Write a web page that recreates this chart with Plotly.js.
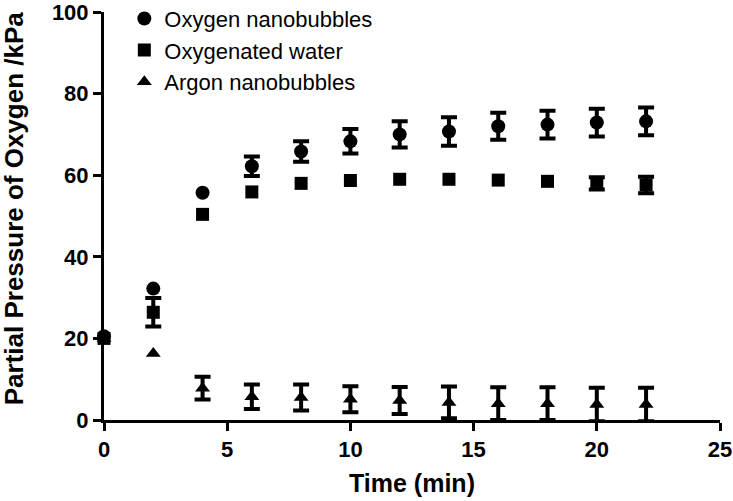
<!DOCTYPE html>
<html><head><meta charset="utf-8">
<script src="https://cdn.plot.ly/plotly-3.0.1.min.js"></script>
<style>html,body{margin:0;padding:0;background:#fff}#c{width:733px;height:501px}</style>
</head><body><div id="c"></div>
<script>
const time = [0, 2, 4, 6, 8, 10, 12, 14, 16, 18, 20, 22];
const oxyNano = [20.5, 32.2, 55.7, 62.2, 65.8, 68.3, 70.0, 70.7, 72.0, 72.4, 72.9, 73.2];
const oxyNanoErr = [null, null, null, 2.4, 2.5, 3.0, 3.2, 3.5, 3.3, 3.4, 3.4, 3.4];
const oxyWater = [20.0, 26.4, 50.4, 55.9, 58.0, 58.7, 59.0, 59.0, 58.8, 58.5, 58.0, 57.6];
const oxyWaterErr = [null, 3.5, null, null, null, null, null, null, null, null, 1.5, 2.0];
const argonNano = [20.0, 16.3, 7.8, 5.7, 5.5, 5.1, 4.8, 4.3, 4.0, 4.0, 3.8, 3.8];
const argonNanoErr = [null, null, 2.8, 3.0, 3.2, 3.2, 3.3, 3.9, 4.0, 4.0, 4.1, 4.1];
const names = ["Oxygen nanobubbles", "Oxygenated water", "Argon nanobubbles"];
const yTitle = "Partial Pressure of Oxygen /kPa";
const xTitle = "Time (min)";
const FAM = "Liberation Sans, Arial, sans-serif";
const tickFont = {family: FAM, size: 22, color: "#000", weight: "bold"};

function tr(y, err, name, symbol, size) {
  return {
    x: time, y: y, name: name, type: "scatter", mode: "markers",
    legendgroup: name, cliponaxis: false,
    marker: {symbol: symbol, size: size, color: "#000"},
    error_y: {type: "data", array: err.map(v => (v === null ? NaN : v)), visible: true, color: "#000", thickness: 4, width: 8}
  };
}
const data = [
  tr(oxyNano, oxyNanoErr, names[0], "circle", 14),
  tr(oxyWater, oxyWaterErr, names[1], "square", 13),
  tr(argonNano, argonNanoErr, names[2], "triangle-up", 13)
];
const layout = {
  width: 733, height: 501,
  margin: {l: 104, r: 13, t: 12, b: 81, autoexpand: false},
  paper_bgcolor: "#fff", plot_bgcolor: "#fff",
  showlegend: true,
  legend: {x: 0.033, y: 1.035, xanchor: "left", yanchor: "top", traceorder: "grouped", tracegroupgap: 0,
    font: {family: FAM, size: 22, color: "#000"}, bgcolor: "rgba(0,0,0,0)", itemwidth: 30},
  xaxis: {range: [0, 25], tickvals: [0, 5, 10, 15, 20, 25], showgrid: false, zeroline: false, automargin: false,
    showline: true, linecolor: "#000", linewidth: 3, ticks: "outside", ticklen: 8, tickwidth: 3, tickcolor: "#000",
    ticklabeloverflow: "allow",
    tickfont: tickFont, title: {text: xTitle, font: {family: FAM, size: 25, color: "#000", weight: "bold"}, standoff: 14}},
  yaxis: {range: [0, 100], tickvals: [0, 20, 40, 60, 80, 100], showgrid: false, zeroline: false, automargin: false,
    showline: true, linecolor: "#000", linewidth: 3, ticks: "outside", ticklen: 8, tickwidth: 3, tickcolor: "#000",
    ticklabeloverflow: "allow",
    tickfont: tickFont},
  annotations: [{
    text: yTitle, xref: "paper", yref: "paper", x: -0.147, y: 0.52, xanchor: "center", yanchor: "middle",
    textangle: -90, showarrow: false, font: {family: FAM, size: 26, color: "#000", weight: "bold"}
  }]
};
Plotly.newPlot("c", data, layout, {displayModeBar: false, staticPlot: true});
</script></body></html>
